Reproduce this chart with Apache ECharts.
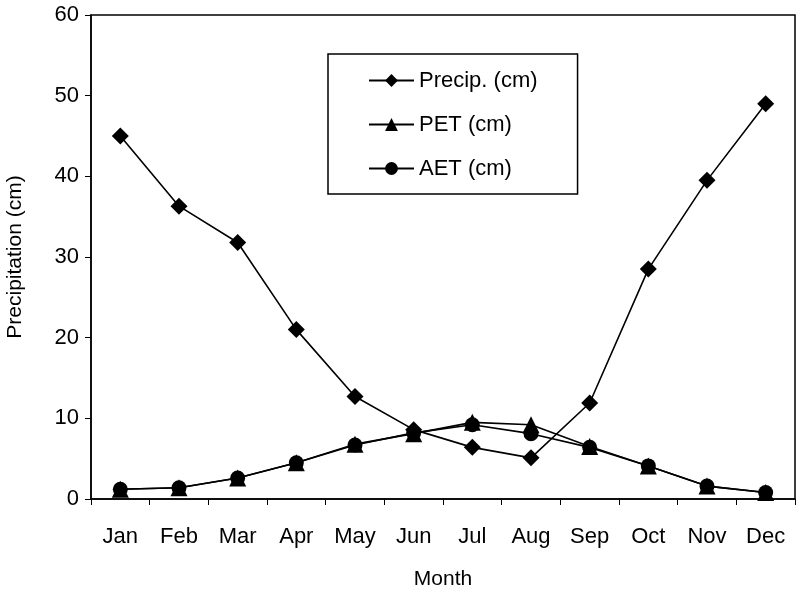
<!DOCTYPE html>
<html><head><meta charset="utf-8">
<script src="https://cdn.jsdelivr.net/npm/echarts@6/dist/echarts.min.js"></script>
<style>html,body{margin:0;padding:0;background:#fff}#c{width:802px;height:594px}</style>
</head><body><div id="c"></div>
<script>
const months = ['Jan','Feb','Mar','Apr','May','Jun','Jul','Aug','Sep','Oct','Nov','Dec'];
const precip = [45, 36.3, 31.8, 21, 12.7, 8.6, 6.4, 5.1, 11.9, 28.5, 39.5, 49];
const pet = [1.2, 1.4, 2.6, 4.5, 6.8, 8.1, 9.5, 9.2, 6.5, 4.1, 1.6, 0.8];
const aet = [1.2, 1.4, 2.6, 4.5, 6.7, 8.2, 9.2, 8.1, 6.4, 4.1, 1.6, 0.8];
const yTicks = [0, 10, 20, 30, 40, 50, 60];

const font = 'Liberation Sans, Arial, sans-serif';
const chart = echarts.init(document.getElementById('c'));
const lineStyle = {color: '#000', width: 1.6};
chart.setOption({
  animation: false,
  grid: {left: 91, right: 7, top: 15, bottom: 95, containLabel: false, outerBoundsMode: 'none',
    show: true, borderColor: '#000', borderWidth: 1.5, backgroundColor: 'transparent'},
  legend: {
    orient: 'vertical', left: 328, top: 54,
    padding: [15, 40, 14, 40],
    borderColor: '#000', borderWidth: 1.5, backgroundColor: '#fff',
    itemWidth: 45, itemHeight: 16, itemGap: 21, itemTextGap: 3,
    textStyle: {fontFamily: font, fontSize: 22, color: '#000', lineHeight: 23},
    data: ['Precip. (cm)', 'PET (cm)', 'AET (cm)']
  },
  xAxis: {
    type: 'category', data: months, boundaryGap: true,
    name: 'Month', nameLocation: 'middle', nameGap: 70,
    nameTextStyle: {fontFamily: font, fontSize: 21, color: '#000'},
    axisLine: {lineStyle: {color: '#000', width: 1.5}},
    axisTick: {show: true, inside: false, length: 6, alignWithLabel: false, lineStyle: {color: '#000'}},
    axisLabel: {fontFamily: font, fontSize: 22, color: '#000', margin: 27},
    splitLine: {show: false}
  },
  yAxis: {
    type: 'value', min: 0, max: 60, interval: 10,
    name: 'Precipitation (cm)', nameLocation: 'middle', nameGap: 65,
    nameTextStyle: {fontFamily: font, fontSize: 21, color: '#000'},
    axisLine: {show: true, lineStyle: {color: '#000', width: 1.5}},
    axisTick: {show: true, inside: false, length: 6, lineStyle: {color: '#000'}},
    axisLabel: {fontFamily: font, fontSize: 22, color: '#000', margin: 12,
      formatter: v => yTicks.includes(v) ? String(v) : ''},
    splitLine: {show: false}
  },
  series: [
    {name: 'Precip. (cm)', type: 'line', data: precip, symbol: 'diamond', symbolSize: 17,
     lineStyle: lineStyle, itemStyle: {color: '#000'}, z: 3},
    {name: 'PET (cm)', type: 'line', data: pet, symbol: 'triangle', symbolSize: 17,
     lineStyle: lineStyle, itemStyle: {color: '#000'}, z: 2},
    {name: 'AET (cm)', type: 'line', data: aet, symbol: 'circle', symbolSize: 15,
     lineStyle: lineStyle, itemStyle: {color: '#000'}, z: 2}
  ]
});
</script></body></html>
